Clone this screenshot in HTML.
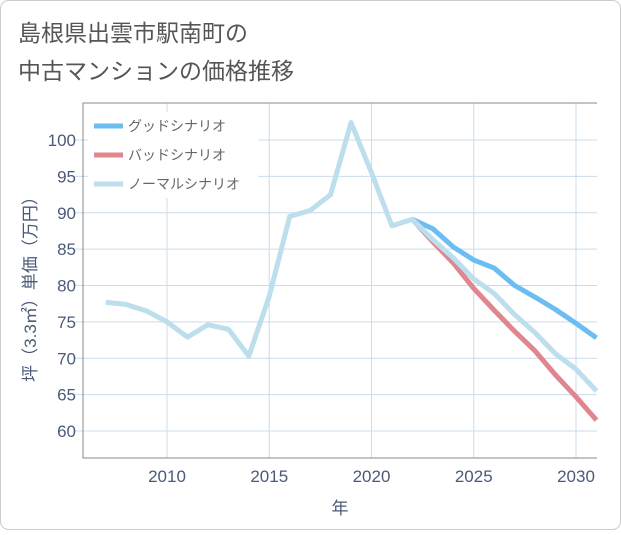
<!DOCTYPE html>
<html><head><meta charset="utf-8"><style>
body{margin:0;background:#fff;}
svg text{font-family:"Liberation Sans","Noto Sans CJK JP",sans-serif;}
</style></head><body>
<svg width="621" height="530">
<rect x="0.5" y="0.5" width="620" height="529" rx="8" fill="#fff" stroke="#ccc"/>
<text x="18" y="41" font-size="23" fill="#555">島根県出雲市駅南町の</text>
<text x="18" y="79" font-size="23" fill="#555">中古マンションの価格推移</text>
<g id="plot"></g>
</svg>
<script>
const years=[2007,2008,2009,2010,2011,2012,2013,2014,2015,2016,2017,2018,2019,2020,2021,2022,2023,2024,2025,2026,2027,2028,2029,2030,2031];
const normal=[77.7,77.4,76.5,75,72.9,74.6,74,70.3,78.5,89.5,90.3,92.5,102.4,95.5,88.2,89.1,86.3,83.8,80.9,78.9,76,73.5,70.6,68.5,65.5];
const goodYears=[2022,2023,2024,2025,2026,2027,2028,2029,2030,2031];
const good=[89.1,87.8,85.3,83.5,82.4,80,78.4,76.7,74.8,72.8];
const bad=[89.1,86,83.1,79.6,76.6,73.7,71,67.7,64.7,61.5];
const xTicks=[2010,2015,2020,2025,2030];
const yTicks=[60,65,70,75,80,85,90,95,100];
const L=83,T=103,R=597,B=458;
const X=y=>167+(y-2010)*20.45;
const Y=v=>140+(100-v)*7.275;
const ns="http://www.w3.org/2000/svg";
const g=document.getElementById('plot');
function mk(t,a,p){const e=document.createElementNS(ns,t);for(const k in a)e.setAttribute(k,a[k]);(p||g).appendChild(e);return e;}
xTicks.forEach(t=>{const l=mk('line',{x1:X(t),x2:X(t),y1:T,y2:B,stroke:'#c9dcea'});


const tx=mk('text',{x:X(t),y:B+24,'font-size':17,fill:'#4a5a78','text-anchor':'middle'});tx.textContent=t;

});
yTicks.forEach(t=>{const l=mk('line',{x1:L-8,x2:R,y1:Y(t),y2:Y(t),stroke:'#c9dcea'});


const tx=mk('text',{x:L-7,y:Y(t)+6,'font-size':17,fill:'#4a5a78','text-anchor':'end'});tx.textContent=t;

});
const bd=mk('path',{d:`M${R},${T}H${L}V${B}H${R}`,fill:'none',stroke:'#888'});


function line(xs,vs,c,n){const p=mk('polyline',{points:xs.map((y,i)=>X(y)+','+Y(vs[i])).join(' '),fill:'none',stroke:c,'stroke-width':5,'stroke-linejoin':'round'});

}
line(goodYears,good,'#6bbdf2','good-scenario-line');
line(goodYears,bad,'#e0868e','bad-scenario-line');
line(years,normal,'#bcdeed','normal-scenario-line');
const lg=mk('rect',{x:88,y:112,width:170,height:86,fill:'#fff'});


[['グッドシナリオ','#6bbdf2'],['バッドシナリオ','#e0868e'],['ノーマルシナリオ','#bcdeed']].forEach((d,i)=>{
const y=126+i*29;const l=mk('line',{x1:94,x2:123,y1:y,y2:y,stroke:d[1],'stroke-width':5});


const t=mk('text',{x:128,y:y+5,'font-size':14,fill:'#666'});t.textContent=d[0];

});
const xt=mk('text',{x:340,y:514,'font-size':17,fill:'#4a5a78','text-anchor':'middle'});xt.textContent='年';


const yt=mk('text',{x:0,y:0,'font-size':17,fill:'#4a5a78','text-anchor':'middle',transform:'translate(36,285) rotate(-90)'});yt.textContent='坪（3.3㎡）単価（万円）';


</script>
</body></html>
